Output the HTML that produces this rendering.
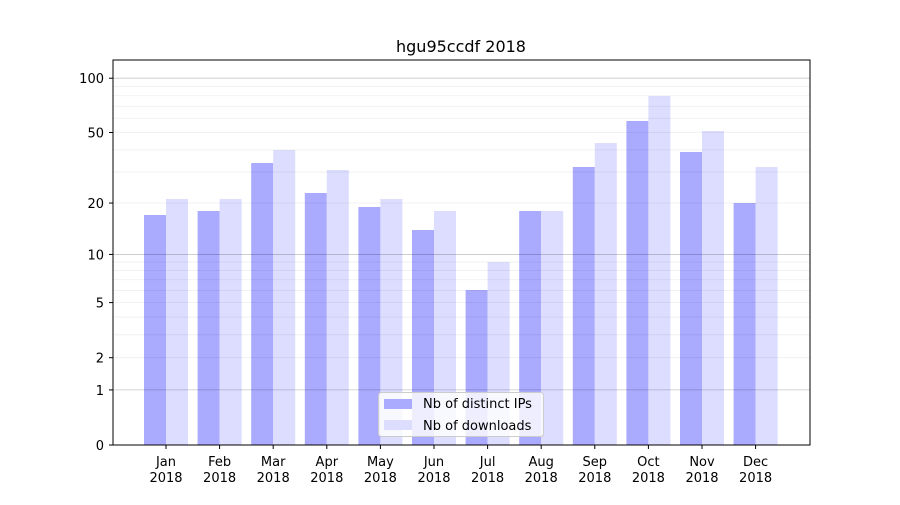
<!DOCTYPE html>
<html><head><meta charset="utf-8"><style>
body{margin:0;background:#fff;}
svg text{font-family:"DejaVu Sans","Liberation Sans",sans-serif;font-size:13px;fill:#000;}
</style></head><body>
<svg id="s" width="900" height="500" xmlns="http://www.w3.org/2000/svg">
<rect width="900" height="500" fill="#fff"/>
<g id="bars"></g>
<g id="grid"></g>
<rect x="113" y="60" width="697" height="385" fill="none" stroke="#000" stroke-width="1"/>
<g id="ticks"></g>
<text x="461" y="52" text-anchor="middle" style="font-size:16px">hgu95ccdf 2018</text>
<g>
<rect x="378.5" y="392.5" width="165" height="44" rx="3" fill="#fff" fill-opacity="0.8" stroke="#ccc"/>
<rect x="384" y="399" width="28" height="10" fill="#aaaaff"/>
<text x="423" y="408">Nb of distinct IPs</text>
<rect x="384" y="420" width="28" height="10" fill="#ddddff"/>
<text x="423" y="430">Nb of downloads</text>
</g>
</svg>
<script>
var ns="http://www.w3.org/2000/svg";
function el(p,t,a,txt){var e=document.createElementNS(ns,t);for(var k in a)e.setAttribute(k,a[k]);if(txt)e.textContent=txt;document.getElementById(p).appendChild(e);return e;}
function Y(v){return 445-183*Math.log10(v+1);}
var minors=[2,3,4,5,6,7,8,9,20,30,40,50,60,70,80,90];
minors.forEach(function(v){var y=Y(v);el("grid","line",{x1:113,x2:810,y1:y,y2:y,stroke:"#000","stroke-opacity":0.07,"stroke-width":0.8});});
[1,10,100].forEach(function(v){var y=Y(v);el("grid","line",{x1:113,x2:810,y1:y,y2:y,stroke:"#000","stroke-opacity":0.22,"stroke-width":0.8});});
var ip=[215,211,163,193,207,230,290,211,167,121,152,203];
var dl=[199,199,150,170,199,211,262,211,143,96,131,167];
var m=["Jan","Feb","Mar","Apr","May","Jun","Jul","Aug","Sep","Oct","Nov","Dec"];
for(var i=0;i<12;i++){
 var c=166+i*53.6;
 el("bars","rect",{x:c-22,y:ip[i],width:22,height:445-ip[i],fill:"#aaaaff"});
 el("bars","rect",{x:c,y:dl[i],width:22,height:445-dl[i],fill:"#ddddff"});
 el("ticks","line",{x1:c,x2:c,y1:445,y2:449,stroke:"#000"});
 el("ticks","text",{x:c,y:466,"text-anchor":"middle"},m[i]);
 el("ticks","text",{x:c,y:482,"text-anchor":"middle"},"2018");
}
[0,1,2,5,10,20,50,100].forEach(function(v){var y=Y(v);
 el("ticks","line",{x1:109,x2:113,y1:y,y2:y,stroke:"#000"});
 el("ticks","text",{x:104,y:y+5,"text-anchor":"end"},String(v));});
</script>
</body></html>
